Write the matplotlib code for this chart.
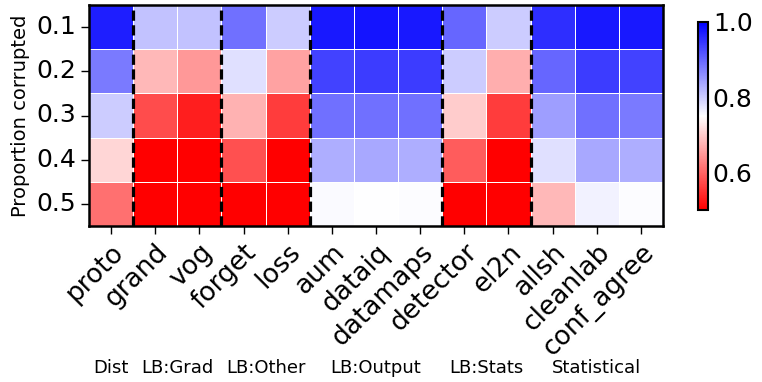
import matplotlib
matplotlib.use("Agg")
import matplotlib.pyplot as plt
import numpy as np
import pandas as pd
import seaborn as sns

# proportion of corrupted labels (rows) vs detection method (columns)
proportions = ["0.1", "0.2", "0.3", "0.4", "0.5"]
methods = ["proto", "grand", "vog", "forget", "loss", "aum", "dataiq",
           "datamaps", "detector", "el2n", "allsh", "cleanlab", "conf_agree"]

row_01 = [0.97, 0.81, 0.81, 0.89, 0.80, 0.975, 0.98, 0.975, 0.90, 0.80, 0.955, 0.975, 0.975]
row_02 = [0.88, 0.68, 0.65, 0.78, 0.66, 0.935, 0.94, 0.94, 0.80, 0.67, 0.90, 0.94, 0.935]
row_03 = [0.80, 0.575, 0.53, 0.675, 0.56, 0.89, 0.89, 0.89, 0.70, 0.56, 0.845, 0.89, 0.88]
row_04 = [0.71, 0.50, 0.50, 0.58, 0.50, 0.83, 0.835, 0.83, 0.59, 0.50, 0.78, 0.835, 0.83]
row_05 = [0.61, 0.50, 0.50, 0.50, 0.50, 0.755, 0.751, 0.752, 0.50, 0.50, 0.68, 0.762, 0.753]

# method groups: name, first column, end column
groups = ["Dist", "LB:Grad", "LB:Other", "LB:Output", "LB:Stats", "Statistical"]
group_start = [0, 1, 3, 5, 8, 10]
group_end = [1, 3, 5, 8, 10, 13]

df = pd.DataFrame([row_01, row_02, row_03, row_04, row_05],
                  index=proportions, columns=methods)

W, H = 762, 382
fig = plt.figure(figsize=(W / 100, H / 100), dpi=100)
ax = fig.add_axes([89 / W, 1 - 226 / H, (663 - 89) / W, (226 - 5) / H])
cax = fig.add_axes([698 / W, 1 - 210 / H, 10 / W, 188 / H])

sns.heatmap(df, ax=ax, cbar_ax=cax, cmap="bwr_r", vmin=0.5, vmax=1.0,
            linewidths=0.7, linecolor="white")

# dashed separators between method groups
for b in group_end[:-1]:
    ax.axvline(b, color="black", linestyle="--", linewidth=2.3, dashes=(3.2, 1.4))

for s in ax.spines.values():
    s.set_visible(True)
    s.set_linewidth(1.8)
    s.set_color("black")

ax.set_ylabel("Proportion corrupted", fontsize=14)
ax.set_xlabel("")
ax.tick_params(axis="both", labelsize=18, length=6, width=1)
ax.tick_params(axis="x", labelsize=19)
ax.set_yticklabels(proportions, rotation=0)
ax.set_xticklabels(methods, rotation=45, ha="right", rotation_mode="anchor")

for name, s, e in zip(groups, group_start, group_end):
    x = ax.transData.transform(((s + e) / 2, 0))[0] / W
    fig.text(x, 1 - 373 / H, name, ha="center", va="baseline", fontsize=13)

cax.tick_params(labelsize=18, length=0)
cax.set_yticks([0.6, 0.8, 1.0])
cax.set_yticklabels(["0.6", "0.8", "1.0"])
cb = ax.collections[0].colorbar
cb.outline.set_visible(True)
cb.outline.set_linewidth(1.5)
cb.outline.set_edgecolor("black")

fig.savefig("out.png", dpi=100)
